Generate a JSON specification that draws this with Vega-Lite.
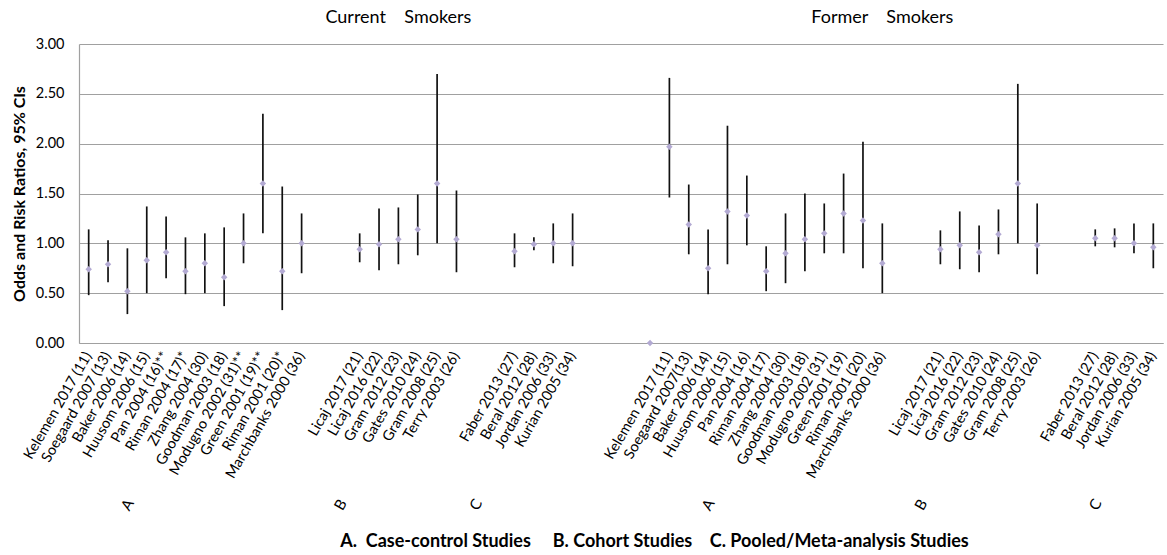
{
  "$schema": "https://vega.github.io/schema/vega-lite/v6.json",
  "width": 1084,
  "height": 299,
  "autosize": "none",
  "padding": {"left": 79, "top": 44, "right": 4, "bottom": 212},
  "background": "white",
  "config": {
    "view": {"stroke": null},
    "font": "Lato",
    "axis": {"labelFont": "Lato", "titleFont": "Lato", "labelColor": "#000000", "titleColor": "#000000"}
  },
  "data": {
    "values": [
      {"key": "01|Kelemen 2017 (11)", "or": 0.74, "lo": 0.48, "hi": 1.14},
      {"key": "02|Soegaard 2007 (13)", "or": 0.79, "lo": 0.61, "hi": 1.03},
      {"key": "03|Baker 2006 (14)", "or": 0.52, "lo": 0.29, "hi": 0.95, "grp": "A"},
      {"key": "04|Huusom 2006 (15)", "or": 0.83, "lo": 0.50, "hi": 1.37},
      {"key": "05|Pan 2004 (16)**", "or": 0.91, "lo": 0.65, "hi": 1.27},
      {"key": "06|Riman 2004 (17)*", "or": 0.72, "lo": 0.49, "hi": 1.06},
      {"key": "07|Zhang 2004 (30)", "or": 0.80, "lo": 0.50, "hi": 1.10},
      {"key": "08|Goodman 2003 (18)", "or": 0.66, "lo": 0.37, "hi": 1.16},
      {"key": "09|Modugno  2002 (31)**", "or": 1.00, "lo": 0.80, "hi": 1.30},
      {"key": "10|Green  2001 (19)**", "or": 1.60, "lo": 1.10, "hi": 2.30},
      {"key": "11|Riman 2001 (20)*", "or": 0.72, "lo": 0.33, "hi": 1.57},
      {"key": "12|Marchbanks 2000 (36)", "or": 1.00, "lo": 0.70, "hi": 1.30},
      {"key": "13|"},
      {"key": "14|", "grp": "B"},
      {"key": "15|Licaj  2017 (21)", "or": 0.94, "lo": 0.81, "hi": 1.10},
      {"key": "16|Licaj  2016 (22)", "or": 0.99, "lo": 0.73, "hi": 1.35},
      {"key": "17|Gram 2012 (23)", "or": 1.04, "lo": 0.79, "hi": 1.36, "hdr": "Current\u00a0\u00a0\u00a0 Smokers"},
      {"key": "18|Gates 2010 (24)", "or": 1.14, "lo": 0.88, "hi": 1.49},
      {"key": "19|Gram 2008 (25)", "or": 1.60, "lo": 1.00, "hi": 2.70},
      {"key": "20|Terry 2003 (26)", "or": 1.04, "lo": 0.71, "hi": 1.53},
      {"key": "21|", "grp": "C"},
      {"key": "22|"},
      {"key": "23|Faber 2013 (27)", "or": 0.92, "lo": 0.76, "hi": 1.10},
      {"key": "24|Beral 2012 (28)", "or": 0.99, "lo": 0.93, "hi": 1.06},
      {"key": "25|Jordan 2006 (33)", "or": 1.00, "lo": 0.80, "hi": 1.20},
      {"key": "26|Kurian 2005 (34)", "or": 1.00, "lo": 0.77, "hi": 1.30},
      {"key": "27|"},
      {"key": "28|"},
      {"key": "29|"},
      {"key": "30|", "or": 0.00},
      {"key": "31|Kelemen 2017 (11)", "or": 1.97, "lo": 1.46, "hi": 2.66},
      {"key": "32|Soegaard 2007(13)", "or": 1.19, "lo": 0.89, "hi": 1.59},
      {"key": "33|Baker 2006 (14)", "or": 0.75, "lo": 0.49, "hi": 1.14, "grp": "A"},
      {"key": "34|Huusom 2006 (15)", "or": 1.32, "lo": 0.79, "hi": 2.18},
      {"key": "35|Pan 2004 (16)", "or": 1.28, "lo": 0.98, "hi": 1.68},
      {"key": "36|Riman 2004 (17)", "or": 0.72, "lo": 0.52, "hi": 0.97},
      {"key": "37|Zhang 2004 (30)", "or": 0.90, "lo": 0.60, "hi": 1.30},
      {"key": "38|Goodman 2003 (18)", "or": 1.04, "lo": 0.72, "hi": 1.50},
      {"key": "39|Modugno  2002 (31)", "or": 1.10, "lo": 0.90, "hi": 1.40},
      {"key": "40|Green  2001 (19)", "or": 1.30, "lo": 0.90, "hi": 1.70},
      {"key": "41|Riman 2001 (20)", "or": 1.23, "lo": 0.75, "hi": 2.02},
      {"key": "42|Marchbanks 2000 (36)", "or": 0.80, "lo": 0.50, "hi": 1.20, "hdr": "Former\u00a0\u00a0\u00a0 Smokers"},
      {"key": "43|"},
      {"key": "44|", "grp": "B"},
      {"key": "45|Licaj  2017 (21)", "or": 0.94, "lo": 0.79, "hi": 1.13},
      {"key": "46|Licaj  2016 (22)", "or": 0.98, "lo": 0.74, "hi": 1.32},
      {"key": "47|Gram 2012 (23)", "or": 0.91, "lo": 0.71, "hi": 1.18},
      {"key": "48|Gates 2010 (24)", "or": 1.09, "lo": 0.89, "hi": 1.34},
      {"key": "49|Gram 2008 (25)", "or": 1.60, "lo": 1.00, "hi": 2.60},
      {"key": "50|Terry 2003 (26)", "or": 0.98, "lo": 0.69, "hi": 1.40},
      {"key": "51|"},
      {"key": "52|"},
      {"key": "53|Faber 2013 (27)", "or": 1.05, "lo": 0.97, "hi": 1.14, "grp": "C"},
      {"key": "54|Beral 2012 (28)", "or": 1.05, "lo": 0.96, "hi": 1.15},
      {"key": "55|Jordan 2006 (33)", "or": 1.00, "lo": 0.90, "hi": 1.20},
      {"key": "56|Kurian 2005 (34)", "or": 0.96, "lo": 0.75, "hi": 1.20}
    ]
  },
  "encoding": {
    "x": {
      "field": "key",
      "type": "ordinal",
      "sort": "ascending",
      "scale": {"type": "band", "paddingInner": 0, "paddingOuter": 0},
      "axis": {
        "labelExpr": "split(datum.value, '|')[1]",
        "labelAngle": -60,
        "labelFontSize": 14.5,
        "labelPadding": 10,
        "labelOverlap": false,
        "labelLimit": 0,
        "ticks": false,
        "domain": true,
        "domainColor": "#a0a0a0",
        "domainWidth": 1.2,
        "grid": false,
        "title": "A.\u00a0 Case-control Studies\u00a0\u00a0\u00a0\u00a0 B. Cohort Studies\u00a0\u00a0\u00a0 C. Pooled/Meta-analysis Studies",
        "titleFontSize": 18,
        "titleFontWeight": "bold",
        "titleX": 575,
        "titleY": 198,
        "titleAnchor": null,
        "titleAlign": "center",
        "titleBaseline": "middle"
      }
    }
  },
  "layer": [
    {
      "mark": {"type": "text", "text": ""},
      "encoding": {
        "y": {"datum": 0, "type": "quantitative"}
      }
    },
    {
      "mark": {"type": "rule", "color": "#111111", "strokeWidth": 1.7},
      "encoding": {
        "y": {
          "field": "lo",
          "type": "quantitative",
          "scale": {"domain": [0, 3], "nice": false, "zero": true},
          "axis": {
            "values": [0, 0.5, 1, 1.5, 2, 2.5, 3],
            "format": ".2f",
            "labelFontSize": 14.5,
            "labelPadding": 15,
            "ticks": false,
            "domain": true,
            "domainColor": "#a0a0a0",
            "domainWidth": 1.2,
            "grid": true,
            "gridColor": "#a0a0a0",
            "gridWidth": 1.2,
            "title": "Odds and Risk Ratios, 95% CIs",
            "titleFontSize": 16,
            "titleFontWeight": "bold",
            "titlePadding": 8
          }
        },
        "y2": {"field": "hi"}
      }
    },
    {
      "mark": {"type": "point", "shape": "diamond", "filled": true, "color": "#b3aad3", "size": 42, "opacity": 1},
      "encoding": {
        "y": {"field": "or", "type": "quantitative"}
      }
    },
    {
      "transform": [{"filter": "isValid(datum.grp)"}],
      "mark": {"type": "text", "angle": 300, "fontSize": 15, "dx": -140, "dy": 81, "align": "center", "baseline": "middle", "color": "#000000"},
      "encoding": {
        "y": {"datum": 0, "type": "quantitative"},
        "text": {"field": "grp"}
      }
    },
    {
      "transform": [{"filter": "isValid(datum.hdr)"}],
      "mark": {"type": "text", "fontSize": 18, "dy": -26, "align": "center", "baseline": "middle", "color": "#000000"},
      "encoding": {
        "y": {"datum": 3, "type": "quantitative"},
        "text": {"field": "hdr"}
      }
    }
  ]
}
